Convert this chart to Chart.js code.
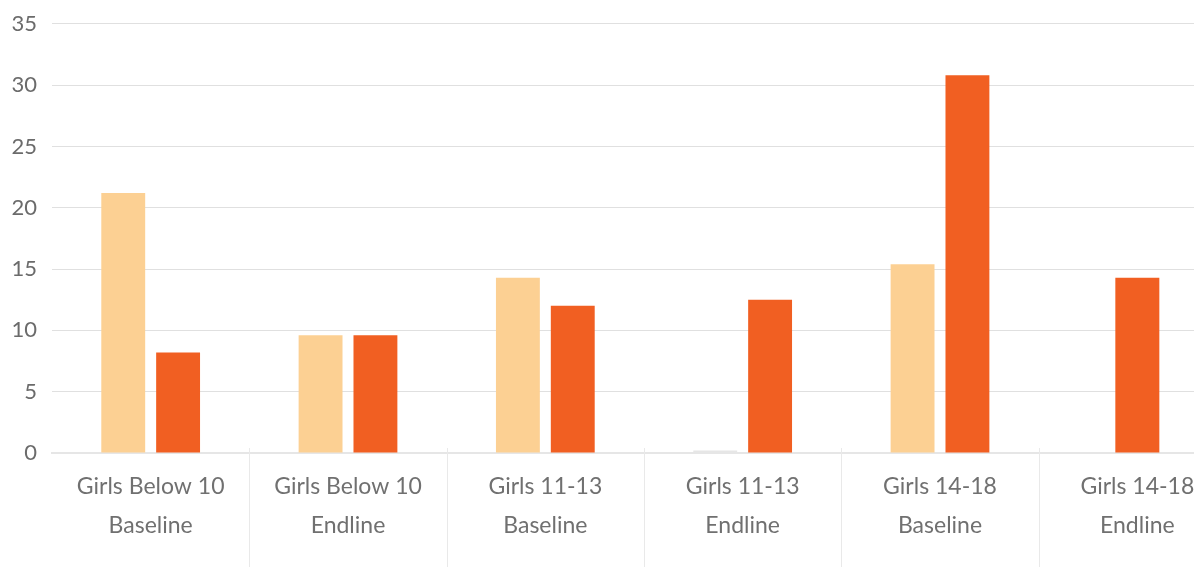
<!DOCTYPE html>
<html>
<head>
<meta charset="utf-8">
<script src="https://cdn.jsdelivr.net/npm/chart.js@4.4.1/dist/chart.umd.min.js"></script>
<style>
  html, body { margin: 0; padding: 0; background: #fff; overflow: hidden; }
  #wrap { position: absolute; left: 0; top: 0; width: 1236px; height: 567px; }
</style>
</head>
<body>
<div id="wrap"><canvas id="chart"></canvas></div>
<script>
// data
const categories = [
  ["Girls Below 10", "Baseline"],
  ["Girls Below 10", "Endline"],
  ["Girls 11-13", "Baseline"],
  ["Girls 11-13", "Endline"],
  ["Girls 14-18", "Baseline"],
  ["Girls 14-18", "Endline"]
];
const seriesA = [21.2, 9.6, 14.3, 0.2, 15.4, null];
const seriesB = [8.2, 9.6, 12.0, 12.5, 30.8, 14.3];
const yTicks = [0, 5, 10, 15, 20, 25, 30, 35];

// separator lines between categories, below the axis
const separators = {
  id: "separators",
  afterDraw(chart) {
    const x = chart.scales.x;
    const y = chart.scales.y;
    const ctx = chart.ctx;
    const half = (x.getPixelForValue(1) - x.getPixelForValue(0)) / 2;
    ctx.save();
    ctx.strokeStyle = "#e9e9e9";
    ctx.lineWidth = 1;
    for (let i = 1; i < categories.length; i++) {
      let px = Math.round(x.getPixelForValue(i) - half) + 0.5;
      ctx.beginPath();
      ctx.moveTo(px, y.getPixelForValue(0) - 5);
      ctx.lineTo(px, chart.height);
      ctx.stroke();
    }
    ctx.restore();
  }
};

const ctx = document.getElementById("chart").getContext("2d");
new Chart(ctx, {
  type: "bar",
  data: {
    labels: categories,
    datasets: [{
      label: "A",
      data: seriesA,
      backgroundColor: (c) => (c.raw !== null && c.raw < 0.5 ? "#e6e6e6" : "#fcd093"),
      categoryPercentage: 0.556,
      barPercentage: 0.8,
      maxBarThickness: 44
    }, {
      label: "B",
      data: seriesB,
      backgroundColor: "#f15f22",
      categoryPercentage: 0.556,
      barPercentage: 0.8,
      maxBarThickness: 44
    }]
  },
  options: {
    responsive: true,
    maintainAspectRatio: false,
    animation: false,
    skipNull: true,
    layout: { padding: { top: 0, left: 0, right: 0, bottom: 0 } },
    plugins: { legend: { display: false }, tooltip: { enabled: false } },
    scales: {
      x: {
        grid: { display: false },
        border: { display: true, color: "#e6e6e6", width: 2 },
        ticks: {
          color: "#707070",
          font: { family: "Lato", size: 23, lineHeight: 1.7 },
          padding: 6,
          maxRotation: 0,
          autoSkip: false
        },
        afterFit(scale) { scale.height = 114; }
      },
      y: {
        min: 0,
        max: 35,
        afterBuildTicks(scale) { scale.ticks = yTicks.map(v => ({ value: v })); },
        grid: { color: "#e0e0e0", lineWidth: 1, drawTicks: false },
        border: { display: false },
        ticks: {
          color: "#6b6b6b",
          font: { family: "Lato", size: 22, lineHeight: 0.8 },
          padding: 15
        },
        afterFit(scale) { scale.width = 52; }
      }
    }
  },
  plugins: [separators]
});
</script>
</body>
</html>
